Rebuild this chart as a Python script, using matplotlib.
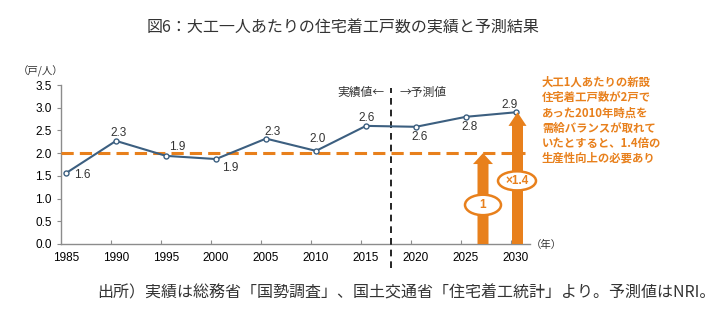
import matplotlib
matplotlib.use("Agg")
import matplotlib.pyplot as plt
from matplotlib.patches import FancyArrow, Ellipse

plt.rcParams['font.family'] = ['Liberation Sans', 'Noto Sans CJK JP', 'DejaVu Sans']

years = [1985, 1990, 1995, 2000, 2005, 2010, 2015, 2020, 2025, 2030]
values = [1.56, 2.27, 1.94, 1.87, 2.32, 2.05, 2.60, 2.58, 2.80, 2.90]
value_labels = ["1.6", "2.3", "1.9", "1.9", "2.3", "2.0", "2.6", "2.6", "2.8", "2.9"]
yticks = [0.0, 0.5, 1.0, 1.5, 2.0, 2.5, 3.0, 3.5]
baseline = 2.0
arrow1_top = 2.0
arrow2_top = 2.9

title = "図6：大工一人あたりの住宅着工戸数の実績と予測結果"
note = "大工1人あたりの新設\n住宅着工戸数が2戸で\nあった2010年時点を\n需給バランスが取れて\nいたとすると、1.4倍の\n生産性向上の必要あり"
source = "出所）実績は総務省「国勢調査」、国土交通省「住宅着工統計」より。予測値はNRI。"

ORANGE = "#E8801C"
BLUE = "#3C5F80"
GRAY = "#8C8C8C"
TXT = "#333333"
CJK = ['Noto Sans CJK JP', 'DejaVu Sans']

fig = plt.figure(figsize=(7.2, 3.24), dpi=100)
ax = fig.add_axes([61/720, 1-244/324, (530-61)/720, (244-85)/324])

ax.plot(years, values, color=BLUE, lw=1.5, marker='o', ms=3.6,
        mfc='white', mec=BLUE, mew=1.0, zorder=5)

offsets = [(16, -2), (3, 8), (11, 9), (14, -9), (7, 7), (2, 12), (1, 8), (4, -10), (4, -10), (-6, 7)]
for x, y, s, off in zip(years, values, value_labels, offsets):
    ax.annotate(s, (x, y), xytext=off, textcoords='offset pixels',
                ha='center', va='center', fontsize=8.5, color=TXT, zorder=6)

ax.axhline(baseline, color=ORANGE, lw=2.2, dashes=(4, 2), xmax=0.99, zorder=3)
ax.axvline(2017.5, ymin=-0.15, ymax=0.98, color='black', lw=1.2, dashes=(4, 3),
           clip_on=False, zorder=4)

ax.set_xlim(1984.5, 2031.4)
ax.set_ylim(0, 3.5)
ax.set_yticks(yticks)
ax.set_yticklabels([f"{v:.1f}" for v in yticks])
ax.set_xticks([y - 0.5 for y in years[1:]])
ax.set_xticklabels([])
ax.set_xticks(years, minor=True)
ax.set_xticklabels([str(y) for y in years], minor=True)
ax.tick_params(axis='x', which='major', direction='in', length=3, color=GRAY)
ax.tick_params(axis='x', which='minor', length=0, labelsize=8.5, labelcolor='black', pad=6)
ax.tick_params(axis='y', direction='out', length=3, color=GRAY, labelsize=8.5, labelcolor='black')
for s in ['top', 'right']:
    ax.spines[s].set_visible(False)
for s in ['left', 'bottom']:
    ax.spines[s].set_color(GRAY)
    ax.spines[s].set_linewidth(1.0)

# arrows
for xc, top, hw, hl in [(2026.7, arrow1_top, 2.0, 0.24), (2030.15, arrow2_top, 1.8, 0.3)]:
    ax.add_patch(FancyArrow(xc, 0, 0, top, width=1.1, head_width=hw, head_length=hl,
                            length_includes_head=True, color=ORANGE, lw=0, zorder=7,
                            clip_on=False))

for xc, yc, w, h, s in [(2026.7, 0.86, 3.6, 0.45, "1"), (2030.1, 1.39, 3.8, 0.42, "×1.4")]:
    ax.add_patch(Ellipse((xc, yc), w, h, facecolor='white', edgecolor=ORANGE, lw=1.8, zorder=8,
                         clip_on=False))
    ax.text(xc, yc, s, ha='center', va='center', color=ORANGE, fontsize=8.5,
            fontweight='bold', zorder=9)

fig.text(384/720, 1-92/324, "実績値←", ha='right', va='center', fontsize=8.5, color=TXT, family=CJK)
fig.text(400/720, 1-92/324, "→予測値", ha='left', va='center', fontsize=8.5, color=TXT, family=CJK)

fig.text(542/720, 1-76/324, note, ha='left', va='top', fontsize=8.2, color=ORANGE,
         fontweight='bold', family=CJK, linespacing=1.22)

fig.text(343/720, 1-28/324, title, ha='center', va='center', fontsize=11.5, color=TXT, family=CJK)
fig.text(41/720, 1-71/324, "（戸/人）", ha='center', va='center', fontsize=7.5, color=TXT, family=CJK)
fig.text(531/720, 1-245/324, "（年）", ha='left', va='center', fontsize=7.5, color=TXT, family=CJK)
fig.text(97/720, 1-293/324, source, ha='left', va='center', fontsize=11.5, color=TXT, family=CJK)

fig.savefig("out.png", dpi=100)
